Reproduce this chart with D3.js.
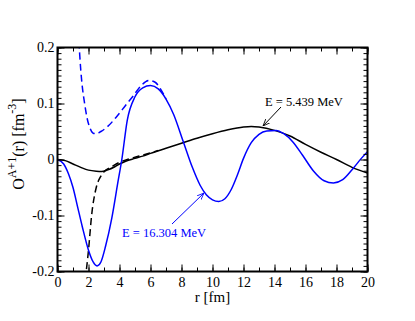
<!DOCTYPE html>
<html><head><meta charset="utf-8">
<script src="https://cdn.jsdelivr.net/npm/d3@7"></script>
<style>body{margin:0;background:#fff}svg{display:block}</style>
</head><body><svg id="c" width="415" height="321"></svg>
<script>
const blueSolid = [[0,0],[0.4,-0.008],[0.7,-0.025],[1.0,-0.05],[1.3,-0.085],[1.6,-0.12],[2.0,-0.162],[2.3,-0.183],[2.55,-0.19],[2.8,-0.183],[3.1,-0.155],[3.5,-0.105],[3.9,-0.04],[4.15,0.0],[4.5,0.07],[5.0,0.112],[5.5,0.128],[6.0,0.132],[6.5,0.126],[7.0,0.108],[7.5,0.08],[8.1,0.033],[8.7,-0.014],[9.2,-0.046],[9.6,-0.063],[10.0,-0.072],[10.4,-0.075],[10.8,-0.07],[11.2,-0.054],[11.6,-0.028],[12.0,0.002],[12.5,0.03],[13.0,0.045],[13.5,0.051],[14.1,0.052],[14.6,0.046],[15.2,0.031],[15.8,0.008],[16.5,-0.02],[17.2,-0.038],[17.8,-0.042],[18.4,-0.036],[19.1,-0.015],[19.6,0.002],[20,0.014]];
const blueDashed = [[1.3,0.23],[1.4,0.2],[1.5,0.16],[1.6,0.13],[1.75,0.1],[1.9,0.075],[2.1,0.056],[2.3,0.047],[2.5,0.046],[2.8,0.05],[3.2,0.058],[3.8,0.076],[4.4,0.097],[4.9,0.114],[5.4,0.132],[5.9,0.141],[6.3,0.138],[6.6,0.128],[7.0,0.108]];
const blackSolid = [[0,0],[0.5,-0.002],[1.0,-0.008],[1.5,-0.014],[2.0,-0.019],[2.5,-0.021],[2.85,-0.0215],[3.2,-0.019],[3.7,-0.013],[4.0,-0.008],[4.4,-0.003],[5.0,0.002],[5.5,0.006],[6.0,0.011],[7.0,0.02],[8.0,0.029],[9.0,0.038],[10.0,0.046],[11.0,0.053],[12.0,0.058],[12.5,0.059],[13.0,0.058],[14.0,0.052],[15.0,0.042],[16.0,0.027],[17.0,0.013],[18.0,0.0],[19.0,-0.014],[20.0,-0.024]];
const blackDashed = [[1.78,-0.215],[1.85,-0.2],[2.0,-0.162],[2.2,-0.1],[2.5,-0.05],[2.75,-0.032],[3.0,-0.022],[3.5,-0.013],[4.0,-0.005],[4.5,0.0],[5.0,0.004],[5.5,0.008],[6.0,0.012],[6.5,0.016]];
const xTicks = [0,2,4,6,8,10,12,14,16,18,20];
const yTicks = [-0.2,-0.1,0,0.1,0.2];
const yTickLabels = ["-0.2","-0.1","0","0.1","0.2"];

const FONT = "Liberation Serif, Times New Roman, Times, serif";
const svg = d3.select("#c");
const L=57.5, R=367.5, T=47.5, B=271.5;
const x = d3.scaleLinear().domain([0,20]).range([L,R]);
const y = d3.scaleLinear().domain([-0.2,0.2]).range([B,T]);

const defs = svg.append("defs");
defs.append("clipPath").attr("id","clip").append("rect")
  .attr("x",L).attr("y",T).attr("width",R-L).attr("height",B-T);
["#000","#0000ff"].forEach((c,i)=>{
  const m = defs.append("marker").attr("id","arr"+i).attr("viewBox","0 0 10 10")
    .attr("refX",10).attr("refY",5).attr("markerWidth",7).attr("markerHeight",7).attr("orient","auto").attr("markerUnits","userSpaceOnUse");
  m.append("path").attr("d","M0,1 L10,5 L0,9").attr("fill","none").attr("stroke",c).attr("stroke-width",1.2);
});

const line = d3.line().x(d=>x(d[0])).y(d=>y(d[1])).curve(d3.curveMonotoneX);
const g = svg.append("g").attr("clip-path","url(#clip)");
g.append("path").datum(blackSolid).attr("d",line).attr("fill","none").attr("stroke","#000").attr("stroke-width",1.5);
g.append("path").datum(blackDashed).attr("d",line).attr("fill","none").attr("stroke","#000").attr("stroke-width",1.5).attr("stroke-dasharray","7,4");
g.append("path").datum(blueSolid).attr("d",line).attr("fill","none").attr("stroke","#0000ff").attr("stroke-width",1.5);
g.append("path").datum(blueDashed).attr("d",line).attr("fill","none").attr("stroke","#0000ff").attr("stroke-width",1.5).attr("stroke-dasharray","7,4");

const xMinor = d3.range(0,21,1), yMinor = d3.range(-20,21).map(v=>v/100);
svg.append("g").attr("transform",`translate(0,${B})`).call(d3.axisBottom(x).tickValues(xTicks).tickSizeInner(-7).tickSizeOuter(0).tickPadding(6).tickFormat(d3.format("d")));
svg.append("g").attr("transform",`translate(0,${B})`).call(d3.axisBottom(x).tickValues(xMinor).tickSizeInner(-4).tickSizeOuter(0).tickFormat(""));
svg.append("g").attr("transform",`translate(0,${T})`).call(d3.axisTop(x).tickValues(xTicks).tickSizeInner(-7).tickSizeOuter(0).tickFormat(""));
svg.append("g").attr("transform",`translate(0,${T})`).call(d3.axisTop(x).tickValues(xMinor).tickSizeInner(-4).tickSizeOuter(0).tickFormat(""));
svg.append("g").attr("transform",`translate(${L},0)`).call(d3.axisLeft(y).tickValues(yTicks).tickSizeInner(-7).tickSizeOuter(0).tickPadding(3).tickFormat((d,i)=>yTickLabels[i]));
svg.append("g").attr("transform",`translate(${L},0)`).call(d3.axisLeft(y).tickValues(yMinor).tickSizeInner(-4).tickSizeOuter(0).tickFormat(""));
svg.append("g").attr("transform",`translate(${R},0)`).call(d3.axisRight(y).tickValues(yTicks).tickSizeInner(-7).tickSizeOuter(0).tickFormat(""));
svg.append("g").attr("transform",`translate(${R},0)`).call(d3.axisRight(y).tickValues(yMinor).tickSizeInner(-4).tickSizeOuter(0).tickFormat(""));
svg.selectAll(".domain").remove();
svg.selectAll("g").attr("font-family",FONT);
svg.selectAll(".tick line").attr("stroke","#000").attr("stroke-width",1);
svg.selectAll(".tick text").attr("font-size",14).attr("fill","#000").attr("font-family",FONT);

svg.append("rect").attr("x",L).attr("y",T).attr("width",R-L).attr("height",B-T)
  .attr("fill","none").attr("stroke","#000").attr("stroke-width",2);

svg.append("text").attr("x",(L+R)/2).attr("y",302).attr("text-anchor","middle").attr("font-family",FONT).attr("font-size",15).text("r [fm]");
const yl = svg.append("text").attr("transform","translate(24,144) rotate(-90)").attr("text-anchor","middle").attr("font-family",FONT).attr("font-size",16);
yl.append("tspan").text("O");
yl.append("tspan").attr("dy",-8).attr("font-size",12).text("A+1");
yl.append("tspan").attr("dy",8).text("(r) [fm");
yl.append("tspan").attr("dy",-8).attr("font-size",12).text("-3");
yl.append("tspan").attr("dy",8).text("]");

svg.append("text").attr("x",265).attr("y",106).attr("font-family",FONT).attr("font-size",12.5).attr("fill","#000").text("E = 5.439 MeV");
svg.append("line").attr("x1",281).attr("y1",107).attr("x2",263).attr("y2",126).attr("stroke","#000").attr("stroke-width",1).attr("marker-end","url(#arr0)");
svg.append("text").attr("x",122).attr("y",237).attr("font-family",FONT).attr("font-size",12.5).attr("fill","#0000ff").text("E = 16.304 MeV");
svg.append("line").attr("x1",172).attr("y1",224).attr("x2",204).attr("y2",193).attr("stroke","#0000ff").attr("stroke-width",1).attr("marker-end","url(#arr1)");
</script></body></html>
